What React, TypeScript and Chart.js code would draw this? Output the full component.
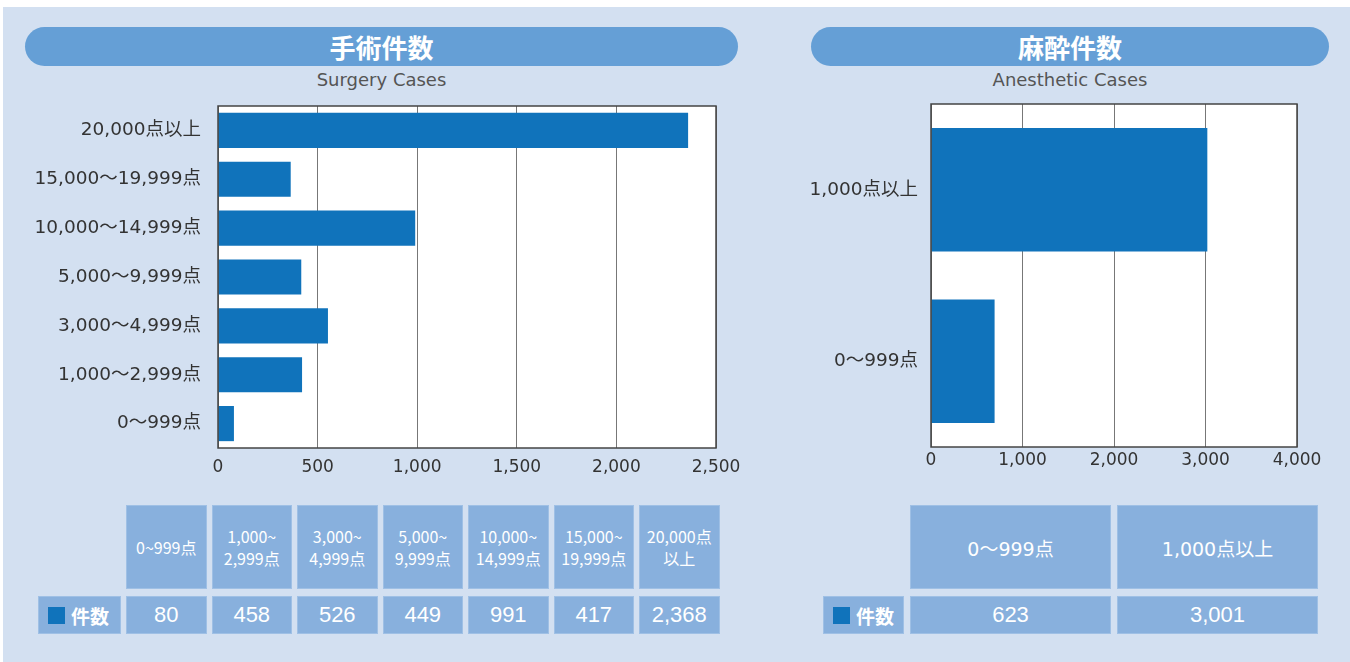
import React, { useEffect, useRef } from "react";
import { Chart, registerables } from "chart.js";

Chart.register(...registerables);

// ---- Data ----
const surgeryCategories = [
  "20,000点以上",
  "15,000〜19,999点",
  "10,000〜14,999点",
  "5,000〜9,999点",
  "3,000〜4,999点",
  "1,000〜2,999点",
  "0〜999点",
];
const surgeryBarValues = [2360, 365, 990, 418, 552, 422, 80];
const surgeryTicks = [0, 500, 1000, 1500, 2000, 2500];

const anesCategories = ["1,000点以上", "0〜999点"];
const anesBarValues = [3020, 695];
const anesTicks = [0, 1000, 2000, 3000, 4000];

const surgeryTableHeaders = [
  "0~999点",
  "1,000~\n2,999点",
  "3,000~\n4,999点",
  "5,000~\n9,999点",
  "10,000~\n14,999点",
  "15,000~\n19,999点",
  "20,000点\n以上",
];
const surgeryTableValues = ["80", "458", "526", "449", "991", "417", "2,368"];

const anesTableHeaders = ["0〜999点", "1,000点以上"];
const anesTableValues = ["623", "3,001"];

const rowLabel = "件数";

// ---- Styles ----
const FAMILY = "'DejaVu Sans', 'Noto Sans CJK JP', sans-serif";
const CJK = "'Noto Sans CJK JP', sans-serif";
const BG = "#d3e0f1";
const PILL = "#659fd6";
const BAR = "#1073bb";
const CELL = "#88b0dd";

const framePlugin = {
  id: "frame",
  beforeDraw(chart: any) {
    const { ctx, chartArea } = chart;
    const { left, top, right, bottom } = chartArea;
    ctx.save();
    ctx.fillStyle = "#ffffff";
    ctx.fillRect(left, top, right - left, bottom - top);
    ctx.restore();
  },
  afterDraw(chart: any) {
    const { ctx, chartArea } = chart;
    const { left, top, right, bottom } = chartArea;
    ctx.save();
    ctx.strokeStyle = "#444";
    ctx.lineWidth = 1.5;
    ctx.strokeRect(left, top, right - left, bottom - top);
    ctx.restore();
  },
};

function makeChart(
  canvas: HTMLCanvasElement,
  labels: string[],
  values: number[],
  ticks: number[],
  yWidth: number,
  yPad: number,
  xHeight: number,
  xPad: number,
  padTop: number,
  padRight: number
) {
  const step = ticks[1] - ticks[0];
  return new Chart(canvas, {
    type: "bar",
    data: {
      labels,
      datasets: [
        {
          data: values,
          backgroundColor: BAR,
          borderWidth: 0,
          barPercentage: 0.72,
          categoryPercentage: 1,
        },
      ],
    },
    options: {
      indexAxis: "y",
      animation: false,
      responsive: false,
      maintainAspectRatio: false,
      layout: { padding: { top: padTop, right: padRight, left: 0, bottom: 0 } },
      plugins: {
        legend: { display: false },
        tooltip: { enabled: false },
      },
      scales: {
        x: {
          type: "linear",
          min: ticks[0],
          max: ticks[ticks.length - 1],
          ticks: {
            stepSize: step,
            color: "#333",
            font: { size: 17, family: FAMILY },
            padding: xPad,
          },
          grid: { color: "#777", lineWidth: 1, drawTicks: false },
          border: { display: false },
          afterFit(s: any) {
            s.height = xHeight;
            s.paddingLeft = 0;
            s.paddingRight = 0;
          },
        },
        y: {
          type: "category",
          ticks: {
            color: "#333",
            font: { size: 18.5, family: FAMILY },
            padding: yPad,
          },
          grid: { display: false, drawTicks: false },
          border: { display: false },
          afterFit(s: any) {
            s.width = yWidth;
            s.paddingTop = 0;
            s.paddingBottom = 0;
          },
        },
      },
    } as any,
    plugins: [framePlugin],
  });
}

function Pill({ left, width, title, subtitle }: any) {
  return (
    <>
      <div
        style={{
          position: "absolute",
          left,
          top: 27,
          width,
          height: 39,
          borderRadius: 20,
          background: PILL,
          color: "#fff",
          fontFamily: CJK,
          fontWeight: 700,
          fontSize: 26,
          lineHeight: "39px",
          textAlign: "center",
        }}
      >
        {title}
      </div>
      <div
        style={{
          position: "absolute",
          left,
          top: 68,
          width,
          height: 24,
          color: "#555",
          fontFamily: "'DejaVu Sans', sans-serif",
          fontSize: 18,
          lineHeight: "24px",
          textAlign: "center",
        }}
      >
        {subtitle}
      </div>
    </>
  );
}

function Cell({ left, top, width, height, children, style }: any) {
  return (
    <div
      style={{
        position: "absolute",
        left,
        top,
        width,
        height,
        boxSizing: "border-box",
        background: CELL,
        border: "1px solid #9fc0e5",
        color: "#fff",
        display: "flex",
        alignItems: "center",
        justifyContent: "center",
        textAlign: "center",
        whiteSpace: "pre-line",
        ...style,
      }}
    >
      {children}
    </div>
  );
}

function LabelCell({ left, width }: any) {
  return (
    <Cell
      left={left}
      top={596}
      width={width}
      height={38}
      style={{ justifyContent: "flex-start", paddingLeft: 9 }}
    >
      <span
        style={{
          display: "inline-block",
          width: 17,
          height: 17,
          background: BAR,
          marginRight: 6,
        }}
      />
      <span style={{ fontFamily: CJK, fontWeight: 700, fontSize: 19 }}>{rowLabel}</span>
    </Cell>
  );
}

export default function App() {
  const c1 = useRef<HTMLCanvasElement>(null);
  const c2 = useRef<HTMLCanvasElement>(null);

  useEffect(() => {
    const ch1 = makeChart(c1.current!, surgeryCategories, surgeryBarValues, surgeryTicks, 218, 17, 37, 9, 6, 29);
    const ch2 = makeChart(c2.current!, anesCategories, anesBarValues, anesTicks, 151, 13, 36, 3, 6, 53);
    return () => {
      ch1.destroy();
      ch2.destroy();
    };
  }, []);

  const t1Left = 126;
  const t1W = 80.5;
  const t1Gap = 5;
  const t2Left = 910;
  const t2W = 201;
  const t2Gap = 6;

  return (
    <div style={{ position: "fixed", left: 0, top: 0, width: 1350, height: 662, background: "#fff", overflow: "hidden" }}>
      <div style={{ position: "absolute", left: 3, top: 7, width: 1347, height: 655, background: BG }} />
      <Pill left={25} width={713} title="手術件数" subtitle="Surgery Cases" />
      <Pill left={811} width={518} title="麻酔件数" subtitle="Anesthetic Cases" />

      <canvas
        ref={c1}
        width={745}
        height={385}
        style={{ position: "absolute", left: 0, top: 100, width: 745, height: 385 }}
      />
      <canvas
        ref={c2}
        width={570}
        height={385}
        style={{ position: "absolute", left: 780, top: 98, width: 570, height: 385 }}
      />

      {surgeryTableHeaders.map((h, i) => (
        <Cell
          key={"h1" + i}
          left={t1Left + i * (t1W + t1Gap)}
          top={505}
          width={t1W}
          height={84}
          style={{ fontFamily: CJK, fontSize: 16, lineHeight: "22px" }}
        >
          {h}
        </Cell>
      ))}
      {surgeryTableValues.map((v, i) => (
        <Cell
          key={"v1" + i}
          left={t1Left + i * (t1W + t1Gap)}
          top={596}
          width={t1W}
          height={38}
          style={{ fontFamily: "'Liberation Sans', sans-serif", fontSize: 22 }}
        >
          {v}
        </Cell>
      ))}
      <LabelCell left={38} width={83} />

      {anesTableHeaders.map((h, i) => (
        <Cell
          key={"h2" + i}
          left={t2Left + i * (t2W + t2Gap)}
          top={505}
          width={t2W}
          height={84}
          style={{ fontFamily: FAMILY, fontSize: 19 }}
        >
          {h}
        </Cell>
      ))}
      {anesTableValues.map((v, i) => (
        <Cell
          key={"v2" + i}
          left={t2Left + i * (t2W + t2Gap)}
          top={596}
          width={t2W}
          height={38}
          style={{ fontFamily: "'Liberation Sans', sans-serif", fontSize: 22 }}
        >
          {v}
        </Cell>
      ))}
      <LabelCell left={823} width={81} />
    </div>
  );
}
